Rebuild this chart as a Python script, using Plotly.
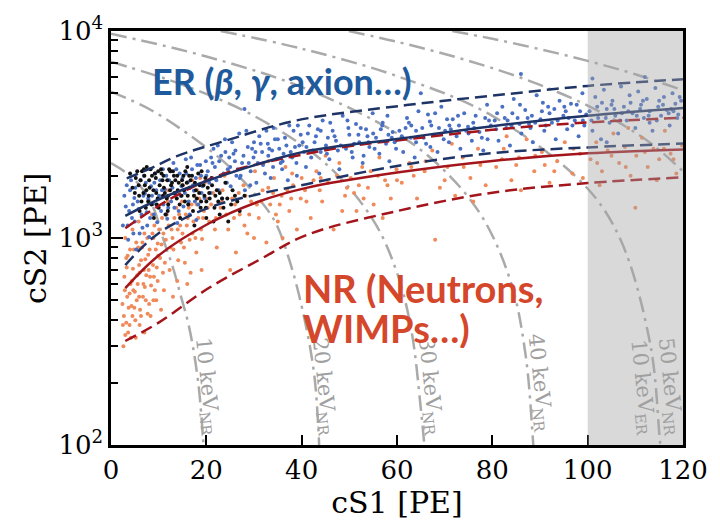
import math
import plotly.graph_objects as go

# ---------------- data ----------------
# ER band (median and dashed limits)
er_x = [3, 10, 20.5, 31, 41, 60, 80, 100, 120]
er_med = [1280, 1535, 1900, 2280, 2625, 3010, 3470, 3900, 4250]
er_up_x = [3.3, 8.7, 13.7, 24, 39, 62, 80, 100, 120]
er_up = [1940, 2190, 2480, 2950, 3700, 4385, 4870, 5430, 5850]
er_lo = [740, 1055, 1400, 1630, 1820, 2230, 2570, 2740, 2860]
# NR band
nr_up_x = [3, 12.2, 22.6, 31, 49.5, 60, 80, 100, 120]
nr_up = [1115, 1535, 2005, 2280, 2765, 2960, 3330, 3615, 3810]
nr_med = [573, 824, 1175, 1500, 1746, 2070, 2356, 2566, 2680]
nr_lo = [318, 390, 573, 782, 1033, 1349, 1656, 1842, 1964]

# energy contours (cS1, cS2)
c10_x = [0, 3, 6, 9, 11.2, 13, 14.5, 16.4, 18.3, 19.6]
c10_y = [2300, 2080, 1800, 1380, 950, 720, 540, 370, 200, 85]
c20_x = [0, 8, 16, 24, 30, 34.4, 37.7, 40.6, 42.7, 43.8]
c20_y = [5100, 4200, 3200, 2300, 1650, 1200, 745, 405, 212, 85]
c30_x = [0, 15, 30, 45, 55, 60, 63, 65, 66]
c30_y = [7100, 5500, 3890, 2290, 1220, 680, 360, 150, 85]
c40_x = [0, 20, 40, 60, 70, 78, 84, 87, 88.6, 89.3]
c40_y = [9700, 7530, 5360, 3200, 2110, 1250, 600, 270, 100, 60]
c50_x = [23, 40, 60, 80, 99.3, 106.9, 113.2, 115.2, 115.8]
c50_y = [10000, 8216, 6054, 3892, 1803, 980, 301, 103, 80]
cb_x = [49.9, 60, 70, 80, 90, 100, 108.2, 114, 120]
cb_y = [10000, 8870, 7740, 6620, 5490, 4360, 3430, 2780, 2100]
ca_x = [71.6, 80, 90, 100, 110, 120]
ca_y = [10000, 9170, 8170, 7170, 6180, 5170]

contour_labels = ["10 keV<sub>NR</sub>", "20 keV<sub>NR</sub>", "30 keV<sub>NR</sub>",
                  "40 keV<sub>NR</sub>", "10 keV<sub>ER</sub>", "50 keV<sub>NR</sub>"]
label_x = [20.1, 44.6, 66.9, 90.0, 111.4, 117.2]
label_y = [190, 190, 190, 200, 190, 190]

# scattered events
blue_pts = [
 (2.5,1150),(3.1,1420),(3.6,980),(4.0,1700),(4.4,1250),(4.9,1560),(5.3,880),(5.8,1380),(6.2,1900),(6.6,1120),
 (7.1,1640),(7.5,1330),(8.0,1010),(8.4,1780),(8.8,1460),(9.3,2050),(9.7,1190),(10.1,1600),(3.3,1800),(5.0,1200),
 (7.8,1550),(9.0,1300),(4.7,1050),(6.9,2000),
 (10.5,1350),(10.9,2150),(11.3,1720),(11.8,1240),(12.2,1900),(12.6,1500),(13.1,2300),(13.5,1630),(13.9,1180),
 (14.4,2050),(14.8,1780),(15.2,1420),(15.7,2400),(16.1,1860),(16.5,1300),(17.0,2150),(17.4,1690),(17.8,1950),
 (18.3,1450),(18.7,2250),(19.2,1780),(19.6,1560),(12.0,1400),(15.0,1950),(17.9,1220),
 (20.3,2100),(20.9,1650),(21.5,2700),(22.1,1900),(22.7,2350),(23.3,1550),(23.9,3000),(24.5,2150),(25.1,1780),
 (25.7,2550),(26.3,2000),(26.9,3200),(27.5,2300),(28.1,1700),(28.7,2750),(29.3,2100),(29.9,2450),(30.5,1850),
 (31.1,3100),(31.7,2600),(32.3,2050),(32.9,2850),(33.5,1950),(34.1,3400),(34.7,2400),(35.3,2700),(35.9,2150),
 (36.5,3050),(37.1,1900),(37.7,2600),(38.3,3300),(38.9,2300),(39.5,2800),(21.0,2450),(24.0,2600),(27.0,1950),
 (30.0,2900),(33.0,2500),(36.0,2350),(39.0,2000),(26.0,2350),(34.0,2200),(28.0,4200),
 (40.2,2900),(40.9,2200),(41.6,3500),(42.3,2650),(43.0,3100),(43.7,2050),(44.4,3700),(45.1,2800),(45.8,2400),
 (46.5,3300),(47.2,2950),(47.9,2150),(48.6,3900),(49.3,2700),(50.0,3150),(50.7,2450),(51.4,3550),(52.1,2900),
 (52.8,2300),(53.5,3350),(54.2,2750),(54.9,4000),(55.6,3050),(56.3,2550),(57.0,3600),(57.7,2850),(58.4,2350),
 (59.1,3250),(59.8,2700),(42.0,2450),(46.0,3600),(50.5,2600),(55.0,3200),(58.0,3900),(44.0,2600),(53.0,2500),
 (60.5,3300),(61.3,2600),(62.1,3800),(62.9,3050),(63.7,2450),(64.5,4100),(65.3,3400),(66.1,2850),(66.9,3650),
 (67.7,3150),(68.5,2600),(69.3,4300),(70.1,3300),(70.9,2900),(71.7,3750),(72.5,3100),(73.3,2700),(74.1,4000),
 (74.9,3450),(75.7,2950),(76.5,3900),(77.3,3250),(78.1,2650),(78.9,4400),(79.7,3500),(63.0,3500),(67.0,2750),
 (71.0,3500),(75.0,3200),(79.0,3000),(65.0,5000),
 (80.5,3700),(81.3,2950),(82.1,4300),(82.9,3400),(83.7,2800),(84.5,4700),(85.3,3800),(86.1,3200),(86.9,4150),
 (87.7,3550),(88.5,2900),(89.3,4900),(90.1,3750),(90.9,3300),(91.7,4300),(92.5,3600),(93.3,3000),(94.1,4600),
 (94.9,3900),(95.7,3350),(96.5,4450),(97.3,3700),(98.1,3100),(98.9,5000),(99.7,3950),(84.0,3500),(88.0,3400),
 (92.0,4000),(96.0,3800),(86.0,6200),
 (100.4,4100),(101.0,3300),(101.6,4800),(102.2,3800),(102.8,3000),(103.4,5200),(104.0,4200),(104.6,3600),
 (105.2,4600),(105.8,3900),(106.4,3200),(107.0,5400),(107.6,4300),(108.2,3700),(108.8,4900),(109.4,4000),
 (110.0,3400),(110.6,5100),(111.2,4400),(111.8,3800),(112.4,4700),(113.0,4100),(113.6,3300),(114.2,5300),
 (114.8,4300),(115.4,3900),(116.0,4800),(116.6,4150),(117.2,3500),(117.8,5000),(118.4,4450),(119.0,3950),
 (119.6,4600),(101.0,5900),(105.0,4400),(109.0,4500),(113.0,3600),(117.0,4000),(104.0,2900),(112.0,6000),
 (3.8,1350),(4.2,1900),(5.6,1500),(6.0,1050),(7.3,1850),(8.2,1250),(9.5,1700),(10.3,1900),(11.0,1450),
 (11.6,2000),(12.9,1750),(13.7,2150),(14.2,1350),(15.5,1650),(16.8,2450),(17.6,1500),(18.9,2000),(19.9,2350),
 (20.6,1850),(21.8,2200),(22.4,2800),(23.6,2050),(24.8,2450),(25.4,2900),(26.6,2150),(27.8,2500),(28.4,3300),
 (29.6,2700),(30.8,2300),(31.4,2850),(32.6,3300),(33.8,2650),(35.0,3000),(36.2,2550),(37.4,3500),(38.6,2750),
 (39.8,3150),(41.0,2750),(43.4,3350),(45.5,3050),(47.6,2650),(49.8,3400),(51.9,3150),(54.0,2900),(56.6,3350),
 (58.9,3050),(61.8,3400),(64.0,2900),(66.5,3950),(68.8,3400),(70.5,3750),(73.0,3500),(76.0,3600),(78.5,3800),
 (81.0,4000),(83.2,3700),(85.8,4400),(88.3,3900),(90.6,4500),(93.0,4200),(95.4,4100),(97.7,4400),(99.3,3500),
 (2.8,1600),(3.5,1150),(4.6,1450),(5.1,1750),(6.4,1300),(6.8,1600),(7.6,1150),(8.6,1600),(9.1,1850),(10.7,1700),
 (11.4,1300),(12.4,2100),(13.3,1400),(14.6,1600),(15.8,2050),(16.3,1500),(17.2,1800),(18.1,2250),(19.0,1650),
 (20.0,2000),(21.3,2300),(22.6,1700),(23.1,2500),(24.3,1850),(25.0,2200),(26.1,2650),(27.2,2000),(28.9,2300),
 (29.2,1800),(30.3,2600),(31.9,2250),(33.2,2700),(34.4,3000),(35.6,2300),(36.8,2800),(38.0,2450),(39.2,3500),
 (40.5,2600),(41.3,3200),(42.7,2900),(44.0,3300),(45.3,2550),(46.9,3100),(48.2,2800),(49.6,3700),(51.0,2850),
 (52.4,3400),(53.8,3100),(55.3,2700),(56.9,3500),(58.2,3150),(59.5,2900),(61.0,3100),(62.5,3600),(64.0,3300),
 (65.6,3050),(67.2,3500),(68.0,4000),(69.8,3000),(71.3,3350),(72.8,3900),(74.5,3300),(76.2,3400),(77.8,3050),
 (79.3,3700),(80.8,3350),(82.6,3800),(84.2,4000),(85.7,3550),(87.4,3800),(89.0,3600),(90.4,4100),(91.2,3500),
 (93.7,3700),(95.1,4300),(96.8,3500),(98.4,4100),(99.0,3700),(100.8,3700),(102.0,4300),(103.8,3800),
 (105.6,4200),(106.8,3700),(108.5,4100),(110.3,3900),(111.6,4600),(112.8,3900),(114.5,3700),(115.8,4400),
 (117.5,4200),(118.8,3800),(119.3,4800),(103.0,4500),(107.2,4000),(111.0,4200),(115.0,4600),(118.0,4100),
]
orange_pts = [
 (2.4,480),(2.8,650),(3.2,390),(3.5,820),(3.9,540),(4.2,330),(4.6,710),(4.9,460),(5.3,950),(5.6,600),
 (6.0,380),(6.3,780),(6.7,520),(7.0,1050),(7.4,660),(7.7,430),(8.1,880),(8.4,590),(8.8,740),(9.1,1150),
 (9.5,500),(9.8,940),(3.0,1000),(4.0,880),(5.0,550),(6.0,680),(7.0,350),(8.0,480),(9.0,650),(2.6,300),
 (5.8,1200),(4.4,620),(6.5,900),(8.6,1300),(3.7,460),(7.2,790),(9.6,720),(5.1,400),(2.9,560),(6.8,600),
 (10.3,800),(10.7,1250),(11.1,560),(11.5,980),(11.9,1500),(12.3,700),(12.7,1100),(13.1,880),(13.5,1650),
 (13.9,620),(14.3,1300),(14.7,950),(15.1,1800),(15.5,760),(15.9,1150),(16.3,1400),(16.7,680),(17.1,1050),
 (17.5,1600),(17.9,850),(18.3,1250),(18.7,1950),(19.1,990),(19.5,1350),(11.0,1050),(13.0,520),(15.0,1050),
 (17.0,1900),(19.0,700),(12.0,1700),(14.0,1100),(16.0,600),(18.0,1450),(10.5,450),(20.0,1550),
 (20.6,1200),(21.4,1650),(22.2,900),(23.0,1400),(23.8,2000),(24.6,1100),(25.4,1550),(26.2,850),(27.0,1300),
 (27.8,1800),(28.6,1050),(29.4,1500),(30.2,2100),(31.0,1250),(31.8,1700),(32.6,950),(33.4,1450),(34.2,1950),
 (35.0,1200),(35.8,1600),(36.6,2200),(37.4,1350),(38.2,1800),(39.0,1100),(39.8,1550),(22.0,1250),(26.0,1450),
 (30.0,1000),(34.0,1650),(38.0,2050),(25.0,700),(33.0,2350),(28.0,1150),(36.0,1000),
 (40.7,1700),(41.9,1250),(43.1,2100),(44.3,1500),(45.5,1850),(46.7,1100),(47.9,2300),(49.1,1600),(50.3,1950),
 (51.5,1350),(52.7,2200),(53.9,1750),(55.1,1450),(56.3,2450),(57.5,1900),(58.7,1550),(59.9,2150),(42.5,1900),
 (48.5,1350),(54.5,2100),(45.0,2500),(51.0,1650),(57.0,1250),
 (61.0,1850),(62.6,2300),(64.2,1550),(65.8,2100),(67.4,2650),(69.0,1750),(70.6,2200),(72.2,1600),(73.8,2450),
 (75.4,1950),(77.0,2700),(78.6,1800),(63.5,2000),(71.5,2850),(76.0,1500),(68.0,980),
 (80.8,2200),(82.4,2700),(84.0,1900),(85.6,2450),(87.2,3000),(88.8,2100),(90.4,2600),(92.0,1850),(93.6,2350),
 (95.2,2900),(96.8,2050),(98.4,2550),(83.0,3100),(91.0,2250),(99.0,1950),(86.0,1700),
 (100.6,2400),(101.8,2900),(103.0,2100),(104.2,2650),(105.4,3200),(106.6,2300),(107.8,2750),(109.0,2000),
 (110.2,2500),(111.4,3050),(112.6,2200),(113.8,2700),(115.0,2400),(116.2,3300),(117.4,2550),(118.6,2050),
 (119.8,2800),(102.5,1800),(108.5,3400),(114.5,1900),(110.0,1400),
 (2.5,380),(3.3,720),(3.6,350),(4.1,600),(4.5,420),(4.8,880),(5.4,500),(5.9,740),(6.1,450),(6.6,950),
 (7.1,580),(7.6,1000),(7.9,700),(8.3,420),(8.7,1050),(9.2,560),(9.9,820),(10.1,1100),(10.9,680),(11.7,1300),
 (12.5,900),(13.3,1250),(14.1,780),(14.9,1500),(15.7,1300),(16.5,980),(17.3,1200),(18.1,1700),(18.9,1100),
 (19.7,1850),(21.0,1450),(23.4,1700),(25.8,1250),(28.2,1600),(30.6,1450),(33.0,1750),(35.4,1450),(37.8,1550),
 (40.0,1950),(43.8,1700),(47.4,2000),(52.0,1800),(56.0,2000),(60.0,1900),(66.0,2350),(74.0,2200),(82.0,2400),
 (89.0,2500),(97.0,2700),(105.0,2500),(112.0,2600),(118.0,2400),
 (2.7,420),(3.0,340),(3.4,520),(3.9,380),(4.3,470),(4.7,560),(5.2,330),(5.5,660),(5.9,520),(6.3,420),
 (6.9,700),(7.3,500),(7.8,830),(8.2,650),(8.9,500),(9.4,880),(9.8,620),(10.6,930),(11.3,760),(12.1,1150),
 (12.9,1000),(13.7,1400),(14.5,1150),(15.3,900),(16.1,1250),(16.9,1450),(17.7,1000),(18.5,1550),(19.3,1250),
 (20.3,1400),(21.8,1100),(23.3,1500),(24.2,1300),(26.8,1650),(29.0,1300),(31.5,1500),(34.6,1300),(37.0,1700),
 (41.0,1500),(44.0,1950),(49.5,1750),(53.0,1550),(58.0,1800),(63.0,2200),(70.0,1900),(77.5,2250),(85.0,2250),
 (93.0,2100),(102.0,2300),(108.0,2200),(116.0,2700),(3.2,800),(5.7,900),(8.9,1000),(4.5,1100),
]
black_pts = [
 (4.5,1750),(5.2,1950),(5.9,1600),(6.5,2100),(7.1,1800),(7.8,1500),(8.3,2150),(8.9,1700),(9.4,1950),(10.0,1400),
 (10.6,2050),(11.1,1750),(11.7,1550),(12.2,2150),(12.8,1850),(13.3,1650),(13.9,2000),(14.4,1450),(15.0,1800),
 (15.6,2100),(16.1,1600),(16.7,1900),(17.2,1350),(17.8,1700),(18.3,2050),(18.9,1500),(19.4,1800),(20.0,1250),
 (20.6,1650),(21.1,1950),(21.7,1400),(22.2,1700),(22.8,1300),(23.3,1550),(24.0,1850),(24.6,1200),(25.2,1450),
 (26.0,1600),(27.0,1350),(6.0,1350),(7.5,2200),(9.0,1250),(10.5,2150),(11.5,1300),(13.0,2100),(14.5,1250),
 (16.0,2200),(17.5,1150),(19.0,2100),(5.5,2100),(8.0,1900),(11.0,2000),(14.0,1700),(17.0,2000),(20.0,1500),
 (23.0,2000),(12.0,1600),(15.5,1500),(9.5,1650),(13.5,1900),(18.5,1650),(21.5,1200),(4.0,2050),(6.8,1650),
 (10.2,1800),(16.5,1750),(19.8,1950),(22.5,1500),(25.5,1700),(8.5,1450),(12.5,2100),(15.2,2000),(11.8,1900),
 (14.8,1600),(7.0,2000),
 (5.0,1650),(6.2,1900),(7.4,1700),(8.6,2000),(9.8,1550),(11.3,1650),(12.6,1800),(13.8,1550),(15.3,1700),
 (16.4,2000),(17.6,1850),(18.8,1400),(20.3,1750),(21.9,1600),(23.6,1400),(26.5,1500),(28.0,1600),(10.8,1900),
 (9.2,2050),(14.2,1850),(12.0,1450),(7.9,1600),(6.4,1500),(18.0,1550),(19.6,1600),
 (5.8,1800),(6.9,2150),(8.1,1750),(9.6,1450),(10.9,1600),(12.4,1700),(13.2,2000),(14.9,1900),(16.2,1450),
 (17.4,1600),(18.6,1800),(19.9,1400),(21.2,1800),(22.8,1650),(24.4,1550),(7.3,1400),(11.9,1350),(15.9,1850),
 (20.7,1550),(9.9,2100),
]

# ---------------- figure ----------------
fig = go.Figure()

GRAY = "#aaaaaa"
DD = "16px,6px,3px,6px"
for cx, cy in [(c10_x, c10_y), (c20_x, c20_y), (c30_x, c30_y), (c40_x, c40_y),
               (c50_x, c50_y), (cb_x, cb_y), (ca_x, ca_y)]:
    fig.add_trace(go.Scatter(x=cx, y=cy, mode="lines", line=dict(color=GRAY, width=2.5, dash=DD, shape="spline"),
                             hoverinfo="skip", showlegend=False))

def pts(p, color):
    return go.Scatter(x=[a for a, b in p], y=[b for a, b in p], mode="markers",
                      marker=dict(color=color, size=4, line=dict(width=0)), showlegend=False, hoverinfo="skip")

fig.add_trace(pts(orange_pts, "#f08a5a"))
fig.add_trace(pts(blue_pts, "#4a70c4"))
fig.add_trace(pts(black_pts, "#111111"))

NAVY = "#1e3366"
RED = "#a3141b"
DASH = "12px,6px"
fig.add_trace(go.Scatter(x=nr_up_x, y=nr_up, mode="lines", line=dict(color=RED, width=2.5, dash=DASH, shape="spline"), showlegend=False))
fig.add_trace(go.Scatter(x=er_x, y=nr_med, mode="lines", line=dict(color=RED, width=2.5, shape="spline"), showlegend=False))
fig.add_trace(go.Scatter(x=er_x, y=nr_lo, mode="lines", line=dict(color=RED, width=2.5, dash=DASH, shape="spline"), showlegend=False))
fig.add_trace(go.Scatter(x=er_up_x, y=er_up, mode="lines", line=dict(color=NAVY, width=2.5, dash=DASH, shape="spline"), showlegend=False))
fig.add_trace(go.Scatter(x=er_x, y=er_med, mode="lines", line=dict(color=NAVY, width=2.5, shape="spline"), showlegend=False))
fig.add_trace(go.Scatter(x=er_x, y=er_lo, mode="lines", line=dict(color=NAVY, width=2.5, dash=DASH, shape="spline"), showlegend=False))

# shaded region above the data
fig.add_shape(type="rect", xref="x", yref="paper", x0=100, x1=120, y0=0, y1=1,
              fillcolor="rgba(165,165,165,0.42)", line=dict(width=0), layer="above")

# contour labels
for t, lx, ly in zip(contour_labels, label_x, label_y):
    fig.add_annotation(x=lx, y=math.log10(ly), xref="x", yref="y", text=t, showarrow=False, textangle=84,
                       font=dict(family="DejaVu Serif", size=21, color="#a0a0a0"))

fig.add_annotation(xref="paper", yref="paper", x=(150 - 111) / 579, y=(450 - 72) / 430, xanchor="left", yanchor="middle",
                   text="<b>ER (<i>β</i>, <i>γ</i>, axion…)</b>", showarrow=False,
                   font=dict(family="Lato, Noto Sans", size=36, color="#1f5b9c"))
fig.add_annotation(xref="paper", yref="paper", x=(303 - 111) / 579, y=(450 - 287) / 430, xanchor="left", yanchor="middle",
                   text="<b>NR (Neutrons,</b>", showarrow=False, height=40,
                   font=dict(family="Lato, Noto Sans", size=38, color="#d4472a"))
fig.add_annotation(xref="paper", yref="paper", x=(303 - 111) / 579, y=(450 - 328) / 430, xanchor="left", yanchor="middle",
                   text="<b>WIMPs…)</b>", showarrow=False, height=40,
                   font=dict(family="Lato, Noto Sans", size=38, color="#d4472a"))

SERIF = "DejaVu Serif, Liberation Serif, serif"
# y-axis title placed as text
fig.add_annotation(xref="paper", yref="paper", x=(34 - 111) / 579, y=0.5, xanchor="center", yanchor="middle",
                   text="cS2 [PE]", textangle=-90, showarrow=False,
                   font=dict(family=SERIF, size=30, color="black"))

minor_vals = [m * 10 ** e for e in (2, 3) for m in range(2, 10)]
fig.update_layout(
    width=720, height=522, margin=dict(l=111, r=30, t=20, b=72),
    paper_bgcolor="white", plot_bgcolor="white",
    font=dict(family=SERIF, size=26, color="black"),
    xaxis=dict(range=[0, 120], tickvals=[0, 20, 40, 60, 80, 100, 120], ticks="inside", ticklen=10, tickwidth=2,
               tickcolor="black", showline=True, linecolor="black", linewidth=2.5, mirror=True, showgrid=False,
               zeroline=False, title=dict(text="cS1 [PE]", font=dict(family=SERIF, size=30), standoff=4),
               tickfont=dict(family=SERIF, size=26)),
    yaxis=dict(type="log", range=[2, 4], tickvals=[100, 1000, 10000],
               ticktext=["10<sup>2</sup>", "10<sup>3</sup>", "10<sup>4</sup>"], ticks="inside", ticklen=12,
               tickwidth=2, tickcolor="black", showline=True, linecolor="black", linewidth=2.5, mirror=True,
               showgrid=False, zeroline=False, tickfont=dict(family=SERIF, size=26),
               minor=dict(tickmode="array", tickvals=minor_vals, ticks="inside", ticklen=7, tickwidth=1.5,
                          tickcolor="black", showgrid=False)),
)

fig.write_html("out.html")
